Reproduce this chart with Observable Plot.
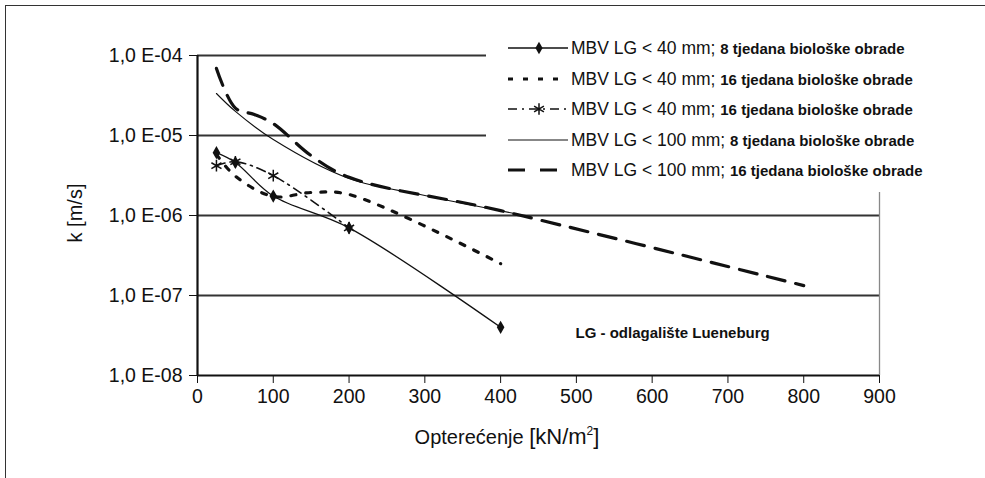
<!DOCTYPE html>
<html>
<head>
<meta charset="utf-8">
<script src="https://cdn.jsdelivr.net/npm/d3@7"></script>
<script src="https://cdn.jsdelivr.net/npm/@observablehq/plot@0.6"></script>
<style>
  html, body { margin: 0; padding: 0; background: #fff; }
  #wrap { position: relative; width: 985px; height: 478px; overflow: hidden; font-family: "Liberation Sans", Arial, sans-serif; color: #111; }
  #frame { position: absolute; left: 5px; top: 5px; width: 985px; height: 480px; border-top: 1.5px solid #333; border-left: 1.5px solid #333; box-sizing: border-box; pointer-events: none; }
  #legend { position: absolute; left: 486px; top: 31px; width: 460px; height: 161px; background: #fff; }
  .row { position: absolute; left: 0; height: 30px; line-height: 30px; white-space: nowrap; }
  .row svg { position: absolute; left: 20px; top: 5px; }
  .main { position: absolute; left: 85px; font-size: 17.5px; }
  .sub { font-size: 15px; font-weight: bold; }
  #xlabel { position: absolute; top: 424px; left: 0; width: 1014px; text-align: center; font-size: 20px; white-space: nowrap; }
  #xlabel .unit { font-size: 22px; }
  #xlabel sup { font-size: 12px; vertical-align: 9px; }
  #ylabel { position: absolute; left: 75px; top: 213px; transform: translate(-50%, -50%) rotate(-90deg); font-size: 20px; white-space: nowrap; }
</style>
</head>
<body>
<div id="wrap"><div id="frame"></div></div>
<script>
// ---- data ----
const xTicks = [0, 100, 200, 300, 400, 500, 600, 700, 800, 900];
const yTicks = [1e-8, 1e-7, 1e-6, 1e-5, 1e-4];
const yTickLabels = ["1,0 E-08", "1,0 E-07", "1,0 E-06", "1,0 E-05", "1,0 E-04"];
const gridValues = [1e-7, 1e-6, 1e-5, 1e-4];

// MBV LG < 40 mm; 8 tjedana
const load40_8w = [25, 50, 100, 200, 400];
const k40_8w = [6.1e-6, 4.6e-6, 1.75e-6, 7.0e-7, 4.0e-8];
// MBV LG < 40 mm; 16 tjedana (dotted)
const load40_16a = [25, 50, 100, 150, 200, 400];
const k40_16a = [5.8e-6, 3.1e-6, 1.73e-6, 1.94e-6, 1.83e-6, 2.5e-7];
// MBV LG < 40 mm; 16 tjedana (dash-dot, asterisk)
const load40_16b = [25, 50, 100, 200];
const k40_16b = [4.2e-6, 4.7e-6, 3.15e-6, 7.0e-7];
// MBV LG < 100 mm; 8 tjedana (thin solid)
const load100_8w = [25, 50, 100, 200, 300, 420];
const k100_8w = [3.35e-5, 2.0e-5, 8.9e-6, 2.9e-6, 1.78e-6, 1.05e-6];
// MBV LG < 100 mm; 16 tjedana (long dash)
const load100_16w = [25, 50, 75, 100, 150, 200, 400, 800];
const k100_16w = [6.9e-5, 2.2e-5, 1.83e-5, 1.41e-5, 5.6e-6, 3.0e-6, 1.15e-6, 1.33e-7];

const legendMain = ["MBV LG < 40 mm;", "MBV LG < 40 mm;", "MBV LG < 40 mm;", "MBV LG < 100 mm;", "MBV LG < 100 mm;"];
const legendSub = ["8 tjedana biološke obrade", "16 tjedana biološke obrade", "16 tjedana biološke obrade", "8 tjedana biološke obrade", "16 tjedana biološke obrade"];

const xLabelText = "Opterećenje";
const xLabelUnit = ["[kN/m", "2", "]"];
const yLabelText = "k [m/s]";

const noteX = [627];
const noteY = [3.4e-8];
const noteText = ["LG - odlagalište Lueneburg"];

// ---- build tables ----
const zip = (xs, ys) => xs.map((x, i) => ({x, y: ys[i]}));
const s1 = zip(load40_8w, k40_8w);
const s2 = zip(load40_16a, k40_16a);
const s3 = zip(load40_16b, k40_16b);
const s4 = zip(load100_8w, k100_8w);
const s5 = zip(load100_16w, k100_16w);
const note = noteX.map((x, i) => ({x, y: noteY[i], text: noteText[i]}));
const yLabelMap = new Map(yTicks.map((t, i) => [t, yTickLabels[i]]));

const styles = [
  {stroke: "#111", strokeWidth: 1.3, dash: null, symbol: "diamond"},
  {stroke: "#111", strokeWidth: 3.2, dash: "5,10", symbol: null},
  {stroke: "#111", strokeWidth: 1.6, dash: "9,5,2,5", symbol: "asterisk"},
  {stroke: "#111", strokeWidth: 1.1, dash: null, symbol: null},
  {stroke: "#111", strokeWidth: 3.2, dash: "18,11", symbol: null}
];

const lineMark = (data, st) => Plot.line(data, {x: "x", y: "y", curve: "catmull-rom", stroke: st.stroke, strokeWidth: st.strokeWidth, strokeDasharray: st.dash || undefined});

const chart = Plot.plot({
  width: 985,
  height: 478,
  marginLeft: 197,
  marginRight: 106,
  marginTop: 55,
  marginBottom: 103,
  style: {fontFamily: "'Liberation Sans', Arial, sans-serif", fontSize: "19.5px", color: "#111", background: "transparent", overflow: "visible"},
  x: {domain: [0, 900], ticks: xTicks, tickFormat: d => String(d), tickSize: 8, tickPadding: 6, label: null},
  y: {type: "log", domain: [1e-8, 1e-4], ticks: yTicks, tickFormat: d => yLabelMap.get(d), tickSize: 8, tickPadding: 7, label: null},
  marks: [
    Plot.ruleY(gridValues, {stroke: "#333", strokeWidth: 1.8}),
    Plot.ruleX([900], {stroke: "#888", strokeWidth: 1.3}),
    Plot.ruleX([0], {stroke: "#111", strokeWidth: 2.2}),
    Plot.ruleY([1e-8], {stroke: "#111", strokeWidth: 2.2}),
    lineMark(s4, styles[3]),
    lineMark(s5, styles[4]),
    lineMark(s2, styles[1]),
    lineMark(s3, styles[2]),
    lineMark(s1, styles[0]),
    Plot.dot(s1, {x: "x", y: "y", symbol: "diamond", fill: "#111", r: 4}),
    Plot.dot(s3, {x: "x", y: "y", symbol: "asterisk", stroke: "#111", strokeWidth: 1.5, r: 5.5}),
    Plot.text(note, {x: "x", y: "y", text: "text", fontWeight: "bold", fontSize: 15, fill: "#111"})
  ]
});

const wrap = document.getElementById("wrap");
wrap.insertBefore(chart, wrap.firstChild);

// axis labels
const xl = document.createElement("div");
xl.id = "xlabel";
xl.appendChild(document.createTextNode(xLabelText + " "));
const unit = document.createElement("span");
unit.className = "unit";
unit.appendChild(document.createTextNode(xLabelUnit[0]));
const sup = document.createElement("sup");
sup.textContent = xLabelUnit[1];
unit.appendChild(sup);
unit.appendChild(document.createTextNode(xLabelUnit[2]));
xl.appendChild(unit);
wrap.appendChild(xl);

const yl = document.createElement("div");
yl.id = "ylabel";
yl.textContent = yLabelText;
wrap.appendChild(yl);

// legend
const legend = document.createElement("div");
legend.id = "legend";
const rowCenters = [48, 79, 109, 140, 170];
styles.forEach((st, i) => {
  const row = document.createElement("div");
  row.className = "row";
  row.style.top = (rowCenters[i] - 31 - 15) + "px";
  const svgNS = "http://www.w3.org/2000/svg";
  const svg = document.createElementNS(svgNS, "svg");
  svg.setAttribute("width", 64); svg.setAttribute("height", 20);
  const ln = document.createElementNS(svgNS, "line");
  ln.setAttribute("x1", 2); ln.setAttribute("x2", 62); ln.setAttribute("y1", 10); ln.setAttribute("y2", 10);
  ln.setAttribute("stroke", st.stroke); ln.setAttribute("stroke-width", st.strokeWidth);
  if (st.dash) ln.setAttribute("stroke-dasharray", i === 4 ? "17,15" : st.dash);
  svg.appendChild(ln);
  if (st.symbol === "diamond") {
    const p = document.createElementNS(svgNS, "path");
    p.setAttribute("d", d3.symbol(d3.symbolDiamond, 45)());
    p.setAttribute("transform", "translate(33,10)");
    p.setAttribute("fill", "#111");
    svg.appendChild(p);
  } else if (st.symbol === "asterisk") {
    const p = document.createElementNS(svgNS, "path");
    p.setAttribute("d", d3.symbol(d3.symbolAsterisk, 90)());
    p.setAttribute("transform", "translate(33,10)");
    p.setAttribute("stroke", "#111"); p.setAttribute("fill", "none"); p.setAttribute("stroke-width", 1.5);
    svg.appendChild(p);
  }
  row.appendChild(svg);
  const txt = document.createElement("span");
  txt.className = "main";
  txt.textContent = legendMain[i] + " ";
  const sub = document.createElement("span");
  sub.className = "sub";
  sub.textContent = legendSub[i];
  txt.appendChild(sub);
  row.appendChild(txt);
  legend.appendChild(row);
});
wrap.appendChild(legend);
</script>
</body>
</html>
